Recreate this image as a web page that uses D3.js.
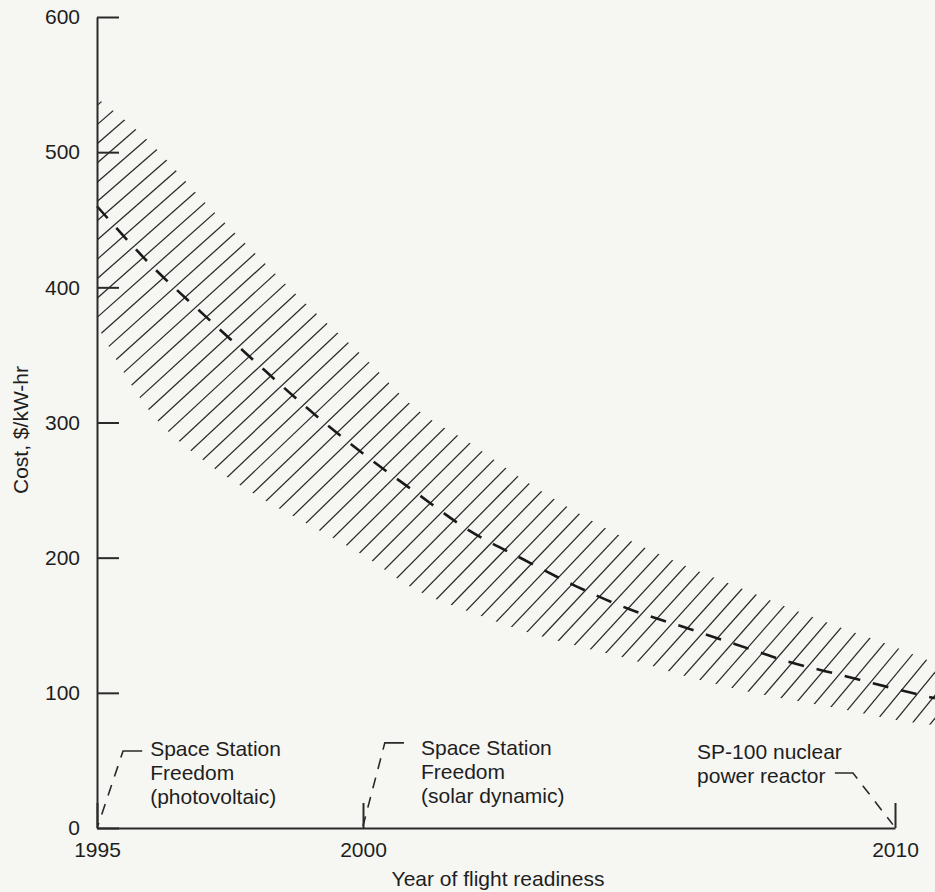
<!DOCTYPE html>
<html>
<head>
<meta charset="utf-8">
<script src="https://cdn.jsdelivr.net/npm/d3@7"></script>
<style>
  html, body { margin: 0; padding: 0; background: #f6f6f3; }
  svg { display: block; }
  text { font-family: "Liberation Sans", Arial, Helvetica, sans-serif; fill: #1e1e1e; }
</style>
</head>
<body>
<svg id="chart" width="935" height="892"></svg>
<script>
// ---------------- data ----------------
const years      = [1995, 1996, 1997, 1998, 1999, 2000, 2001, 2002, 2003, 2004, 2005, 2006, 2007, 2008, 2009, 2010, 2010.75];
const centerCost = [460, 417, 380, 344, 309, 277, 248, 220, 199, 179, 162, 149, 136, 123, 113, 103, 96];
const upperCost  = [540, 507, 464, 424, 385, 349, 310, 285, 258, 234, 213, 195, 179, 163, 148, 134, 122];
const lowerCost  = [372, 308, 272, 246, 224, 202, 176, 160, 146, 135, 125, 113, 103, 95, 88, 80, 76];

const yTicks = [0, 100, 200, 300, 400, 500, 600];
const xTicks = [1995, 2000, 2010];
const xTitle = "Year of flight readiness";
const yTitle = "Cost, $/kW-hr";

// annotation: text lines, text anchor (year, cost), leader corner (year, cost), leader end (year, cost), horizontal stub end (year)
const annLines  = [["Space Station", "Freedom", "(photovoltaic)"],
                   ["Space Station", "Freedom", "(solar dynamic)"],
                   ["SP-100 nuclear", "power reactor"]];
const annTextAt = [[1996.0, 53.3], [2001.09, 54], [2006.28, 51]];
const annCorner = [[1995.49, 57], [2000.41, 63], [2009.21, 40.7]];
const annStub   = [1995.85, 2000.77, 2008.87];
const annEnd    = [[1995.02, 2], [2000.0, 1.5], [2009.96, 2.5]];

// ---------------- setup ----------------
const svg = d3.select("#chart");
const x = d3.scaleLinear().domain([1995, 2010]).range([97, 895]);
const y = d3.scaleLinear().domain([0, 600]).range([828, 17]);

const pts = years.map((yr, i) => ({yr, c: centerCost[i], u: upperCost[i], l: lowerCost[i]}));

// band clip
const area = d3.area().curve(d3.curveMonotoneX)
  .x(d => x(d.yr)).y0(d => y(d.l)).y1(d => y(d.u));
svg.append("defs").append("clipPath").attr("id", "bandClip")
  .append("path").attr("d", area(pts));

// hatch lines generated along center line
const cxs = pts.map(d => x(d.yr)), cys = pts.map(d => y(d.c));
function segIndex(px) {
  if (px <= cxs[0]) return 0;
  for (let i = 0; i < cxs.length - 1; i++) if (px <= cxs[i + 1]) return i;
  return cxs.length - 2;
}
function ycAt(px) {
  const i = segIndex(px);
  const t = (px - cxs[i]) / (cxs[i + 1] - cxs[i]);
  return cys[i] + t * (cys[i + 1] - cys[i]);
}
function slopeAt(px) {
  const i = segIndex(px);
  return (cys[i + 1] - cys[i]) / (cxs[i + 1] - cxs[i]);
}
const hatchSpacing = 14.5;
const hatchG = svg.append("g").attr("clip-path", "url(#bandClip)");
let px = -160;
const x0 = x(1995), x1 = x(2010.75);
while (px < 1100) {
  const f = Math.max(0, Math.min(1, (px - x0) / (x1 - x0)));
  const th = (41 + 10 * f) * Math.PI / 180;
  const py = ycAt(px);
  const L = 260;
  hatchG.append("line")
    .attr("x1", px - L * Math.cos(th)).attr("y1", py + L * Math.sin(th))
    .attr("x2", px + L * Math.cos(th)).attr("y2", py - L * Math.sin(th))
    .attr("stroke", "#2a2a2a").attr("stroke-width", 1.25);
  const v = hatchSpacing / Math.cos(th);
  px += v / (Math.tan(th) + slopeAt(px));
}

// center dashed line
const line = d3.line().curve(d3.curveMonotoneX).x(d => x(d.yr)).y(d => y(d.c));
svg.append("path").attr("d", line(pts))
  .attr("fill", "none").attr("stroke", "#1a1a1a").attr("stroke-width", 2.6)
  .attr("stroke-dasharray", "16,13");

// axes
const yAxis = d3.axisLeft(y).tickValues(yTicks).tickSizeInner(-22).tickSizeOuter(0).tickPadding(17);
const gy = svg.append("g").attr("transform", `translate(${x(1995)},0)`).call(yAxis);
gy.select(".domain").attr("stroke", "#2a2a2a").attr("stroke-width", 2);
gy.selectAll(".tick line").attr("stroke", "#2a2a2a").attr("stroke-width", 2);
gy.selectAll(".tick text").attr("font-size", 21).attr("fill", "#1e1e1e")
  .style("font-family", '"Liberation Sans", Arial, sans-serif');

const xAxis = d3.axisBottom(x).tickValues(xTicks).tickFormat(d3.format("d"))
  .tickSizeInner(-25).tickSizeOuter(0).tickPadding(14);
const gx = svg.append("g").attr("transform", `translate(0,${y(0)})`).call(xAxis);
gx.select(".domain").attr("stroke", "#2a2a2a").attr("stroke-width", 2);
gx.selectAll(".tick line").attr("stroke", "#2a2a2a").attr("stroke-width", 2);
gx.selectAll(".tick text").attr("font-size", 21).attr("fill", "#1e1e1e")
  .style("font-family", '"Liberation Sans", Arial, sans-serif');

// axis titles
svg.append("text").attr("x", 498).attr("y", 886).attr("text-anchor", "middle")
  .attr("font-size", 21).text(xTitle);
svg.append("text").attr("transform", "translate(28,430) rotate(-90)")
  .attr("text-anchor", "middle").attr("font-size", 21).text(yTitle);

// annotations
annLines.forEach((lines, i) => {
  const t = svg.append("text").attr("font-size", 21)
    .attr("x", x(annTextAt[i][0])).attr("y", y(annTextAt[i][1]));
  lines.forEach((s, j) => {
    t.append("tspan").attr("x", x(annTextAt[i][0])).attr("dy", j === 0 ? 0 : 24).text(s);
  });
  const cxp = x(annCorner[i][0]), cyp = y(annCorner[i][1]);
  const sx = x(annStub[i]);
  const ex = x(annEnd[i][0]), ey = y(annEnd[i][1]);
  // solid stub + corner
  const dx = ex - cxp, dy = ey - cyp, len = Math.hypot(dx, dy);
  const k = 7 / len;
  svg.append("path")
    .attr("d", `M${sx},${cyp} L${cxp},${cyp} L${cxp + dx * k},${cyp + dy * k}`)
    .attr("fill", "none").attr("stroke", "#2a2a2a").attr("stroke-width", 1.6);
  svg.append("path")
    .attr("d", `M${cxp + dx * k},${cyp + dy * k} L${ex},${ey}`)
    .attr("fill", "none").attr("stroke", "#2a2a2a").attr("stroke-width", 1.6)
    .attr("stroke-dasharray", "0,9,11,9,11,9,11,9,11,9,11");
});
</script>
</body>
</html>
